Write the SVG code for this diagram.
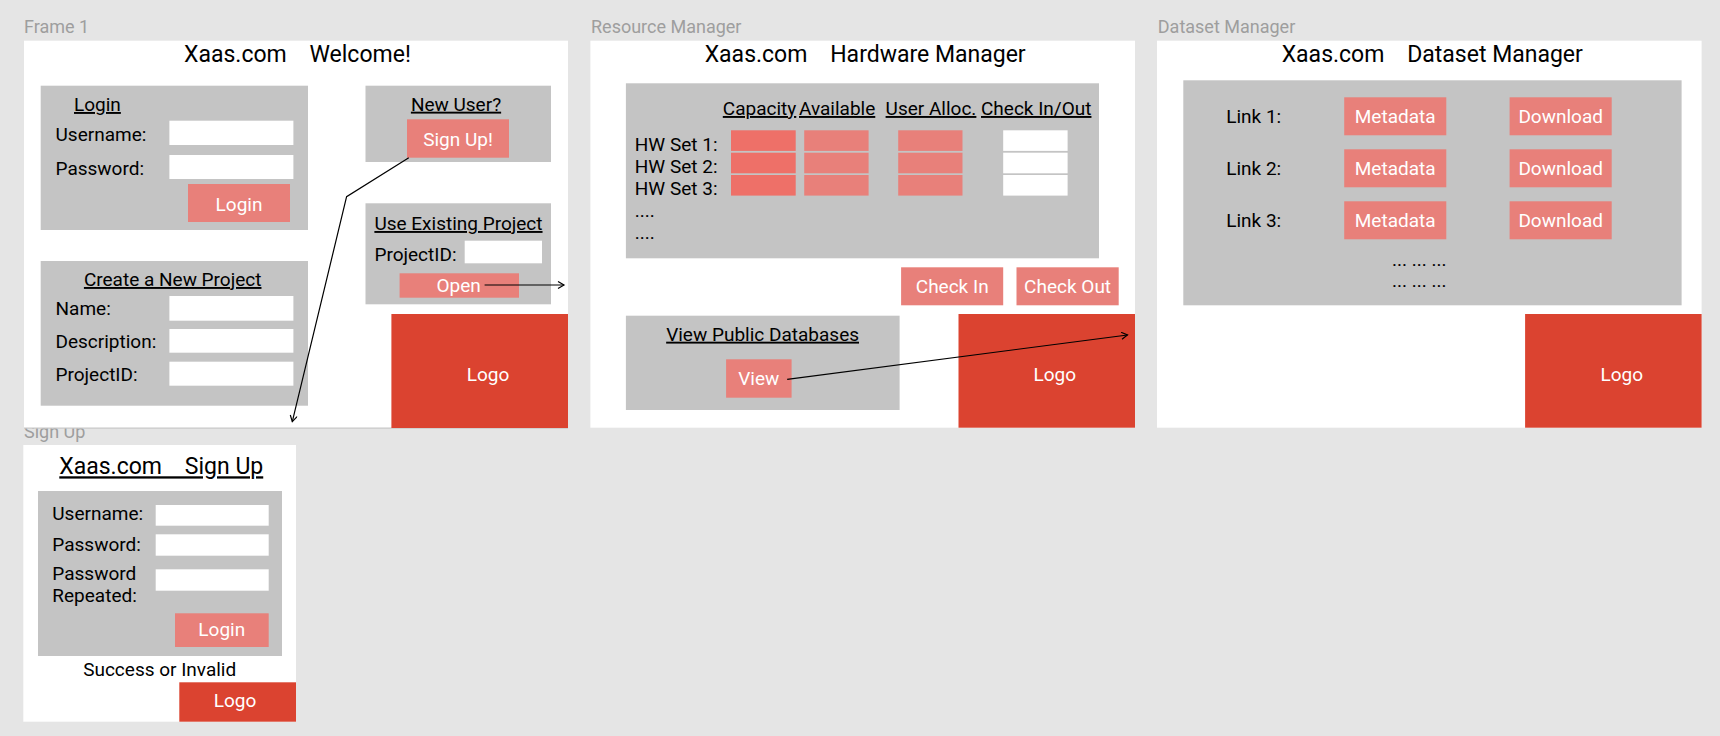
<svg xmlns="http://www.w3.org/2000/svg" width="1720" height="736" viewBox="0 0 1720 736">
<style>
text{font-family:Roboto,"Liberation Sans",sans-serif;fill:#000}
.fl{font-size:18px;fill:#9e9e9e}
.tt{font-size:23px}
.lb{font-size:19px}
.u{text-decoration:underline}
.bt{font-size:19px;fill:#fff;text-anchor:middle}
.c{text-anchor:middle}
.frame{fill:#fff}
.panel{fill:#c4c4c4}
.inp{fill:#fff}
.btn{fill:#e8807a}
.cap{fill:#ee7068}
.logo{fill:#db4330}
.con{fill:none;stroke:#000;stroke-width:1.2}
</style>
<defs>
<marker id="ah" markerUnits="userSpaceOnUse" markerWidth="10" markerHeight="10" refX="7" refY="4" orient="auto">
<path d="M1,0.5 L7,4 L1,7.5" fill="none" stroke="#000" stroke-width="1.2"/>
</marker>
</defs>
<rect width="1720" height="736" fill="#e5e5e5"/>

<g id="signup">
<text class="fl" x="24" y="438">Sign Up</text>
<rect class="frame" x="23.3" y="445" width="272.7" height="276.7"/>
<text class="tt u" x="59.3" y="474.3" xml:space="preserve">Xaas.com    Sign Up</text>
<rect class="panel" x="38" y="491" width="244" height="165"/>
<text class="lb" x="52.3" y="520">Username:</text>
<rect class="inp" x="155.7" y="505" width="113" height="20.7"/>
<text class="lb" x="52.3" y="550.7">Password:</text>
<rect class="inp" x="155.7" y="534.3" width="113" height="21.4"/>
<text class="lb" x="52.3" y="580">Password</text>
<text class="lb" x="52.3" y="601.7">Repeated:</text>
<rect class="inp" x="155.7" y="569.3" width="113" height="21.4"/>
<rect class="btn" x="175" y="613.3" width="93.7" height="33.7"/>
<text class="bt" x="221.8" y="635.7">Login</text>
<text class="lb c" x="159.7" y="676">Success or Invalid</text>
<rect class="logo" x="179.3" y="682.3" width="116.7" height="39.4"/>
<text class="bt" x="235" y="707">Logo</text>
</g>

<g id="frame1">
<text class="fl" x="24" y="33">Frame 1</text>
<rect class="frame" x="24" y="40.7" width="544" height="387.3"/>
<rect x="24" y="427.5" width="544" height="1.2" fill="#c8c8c8"/>
<text class="tt" x="184" y="61.7" xml:space="preserve">Xaas.com    Welcome!</text>
<g id="login-panel">
<rect class="panel" x="40.7" y="85.7" width="267.3" height="144.3"/>
<text class="lb u" x="74" y="111">Login</text>
<text class="lb" x="55.5" y="140.7">Username:</text>
<rect class="inp" x="169.4" y="120.7" width="124" height="24.3"/>
<text class="lb" x="55.5" y="175">Password:</text>
<rect class="inp" x="169.4" y="155" width="124" height="24"/>
<rect class="btn" x="188" y="184" width="102" height="38"/>
<text class="bt" x="239" y="210.7">Login</text>
</g>
<g id="create-panel">
<rect class="panel" x="40.7" y="261" width="267.3" height="144.7"/>
<text class="lb u c" x="172.7" y="286">Create a New Project</text>
<text class="lb" x="55.5" y="315">Name:</text>
<rect class="inp" x="169.4" y="296" width="124" height="24.7"/>
<text class="lb" x="55.5" y="348">Description:</text>
<rect class="inp" x="169.4" y="329" width="124" height="23.7"/>
<text class="lb" x="55.5" y="380.7">ProjectID:</text>
<rect class="inp" x="169.4" y="361.7" width="124" height="24"/>
</g>
<g id="newuser-panel">
<rect class="panel" x="365.5" y="85.7" width="185.5" height="76.3"/>
<text class="lb u c" x="456" y="110.7">New User?</text>
<rect class="btn" x="407" y="119.3" width="102" height="38.4"/>
<text class="bt" x="458" y="145.7">Sign Up!</text>
</g>
<g id="existing-panel">
<rect class="panel" x="365.5" y="203.3" width="185.5" height="101"/>
<text class="lb u" x="374.4" y="230">Use Existing Project</text>
<text class="lb" x="374.4" y="260.7">ProjectID:</text>
<rect class="inp" x="464.7" y="240.7" width="77.3" height="22.6"/>
<rect class="btn" x="399.6" y="273.3" width="119.4" height="24.4"/>
<text class="bt" x="458.7" y="291.7">Open</text>
</g>
<rect class="logo" x="391.4" y="314" width="176.6" height="114"/>
<text class="bt" x="488" y="380.7">Logo</text>
</g>

<g id="resource-manager">
<text class="fl" x="591" y="33">Resource Manager</text>
<rect class="frame" x="590.4" y="40.7" width="544.6" height="387"/>
<text class="tt" x="704.7" y="61.7" xml:space="preserve">Xaas.com    Hardware Manager</text>
<g id="hw-table">
<rect class="panel" x="625.9" y="83.3" width="473.1" height="175"/>
<text class="lb u" x="722.8" y="115">Capacity</text>
<text class="lb u" x="799" y="115">Available</text>
<text class="lb u" x="885.6" y="115">User Alloc.</text>
<text class="lb u" x="981" y="115">Check In/Out</text>
<text class="lb" x="634.8" y="150.7">HW Set 1:</text>
<text class="lb" x="634.8" y="172.7">HW Set 2:</text>
<text class="lb" x="634.8" y="195">HW Set 3:</text>
<text class="lb" x="634.8" y="217.3">....</text>
<text class="lb" x="634.8" y="239.3">....</text>
<rect class="cap" x="731" y="130.3" width="64.7" height="20.6"/>
<rect class="cap" x="731" y="152.7" width="64.7" height="20.6"/>
<rect class="cap" x="731" y="175" width="64.7" height="20.6"/>
<rect class="btn" x="804.2" y="130.3" width="64.4" height="20.6"/>
<rect class="btn" x="804.2" y="152.7" width="64.4" height="20.6"/>
<rect class="btn" x="804.2" y="175" width="64.4" height="20.6"/>
<rect class="btn" x="898.2" y="130.3" width="64.3" height="20.6"/>
<rect class="btn" x="898.2" y="152.7" width="64.3" height="20.6"/>
<rect class="btn" x="898.2" y="175" width="64.3" height="20.6"/>
<rect class="inp" x="1003.2" y="130.3" width="64.4" height="20.6"/>
<rect class="inp" x="1003.2" y="152.7" width="64.4" height="20.6"/>
<rect class="inp" x="1003.2" y="175" width="64.4" height="20.6"/>
</g>
<rect class="btn" x="901.1" y="267.3" width="102.1" height="38"/>
<text class="bt" x="952.2" y="293.3">Check In</text>
<rect class="btn" x="1016.5" y="267.3" width="102.2" height="38"/>
<text class="bt" x="1067.6" y="293.3">Check Out</text>
<g id="public-db">
<rect class="panel" x="625.9" y="315.7" width="273.7" height="94.3"/>
<text class="lb u c" x="762.6" y="340.7">View Public Databases</text>
<rect class="btn" x="726.1" y="359.3" width="65.5" height="38.4"/>
<text class="bt" x="758.8" y="385">View</text>
</g>
<rect class="logo" x="958.5" y="314" width="176.5" height="113.7"/>
<text class="bt" x="1054.7" y="380.7">Logo</text>
</g>

<g id="dataset-manager">
<text class="fl" x="1157.8" y="33">Dataset Manager</text>
<rect class="frame" x="1157" y="40.7" width="544.6" height="387"/>
<text class="tt" x="1281.7" y="61.7" xml:space="preserve">Xaas.com    Dataset Manager</text>
<rect class="panel" x="1183.3" y="80.3" width="498.3" height="225"/>
<text class="lb" x="1226.2" y="123.3">Link 1:</text>
<text class="lb" x="1226.2" y="175.3">Link 2:</text>
<text class="lb" x="1226.2" y="227.3">Link 3:</text>
<rect class="btn" x="1344.2" y="97.3" width="102.1" height="38"/>
<rect class="btn" x="1344.2" y="149.3" width="102.1" height="38"/>
<rect class="btn" x="1344.2" y="201.3" width="102.1" height="38"/>
<text class="bt" x="1395.2" y="123.3">Metadata</text>
<text class="bt" x="1395.2" y="175.3">Metadata</text>
<text class="bt" x="1395.2" y="227.3">Metadata</text>
<rect class="btn" x="1509.6" y="97.3" width="102.1" height="38"/>
<rect class="btn" x="1509.6" y="149.3" width="102.1" height="38"/>
<rect class="btn" x="1509.6" y="201.3" width="102.1" height="38"/>
<text class="bt" x="1560.7" y="123.3">Download</text>
<text class="bt" x="1560.7" y="175.3">Download</text>
<text class="bt" x="1560.7" y="227.3">Download</text>
<text class="lb c" x="1419.3" y="266">... ... ...</text>
<text class="lb c" x="1419.3" y="287.3">... ... ...</text>
<rect class="logo" x="1525.1" y="314" width="176.5" height="113.7"/>
<text class="bt" x="1621.7" y="380.7">Logo</text>
</g>

<g id="connectors">
<polyline class="con" points="408.8,157.7 346.6,196.7 292.3,421.7" marker-end="url(#ah)"/>
<line class="con" x1="484.6" y1="285" x2="564" y2="285" marker-end="url(#ah)"/>
<line class="con" x1="787.2" y1="379.3" x2="1127.5" y2="335" marker-end="url(#ah)"/>
</g>
</svg>
